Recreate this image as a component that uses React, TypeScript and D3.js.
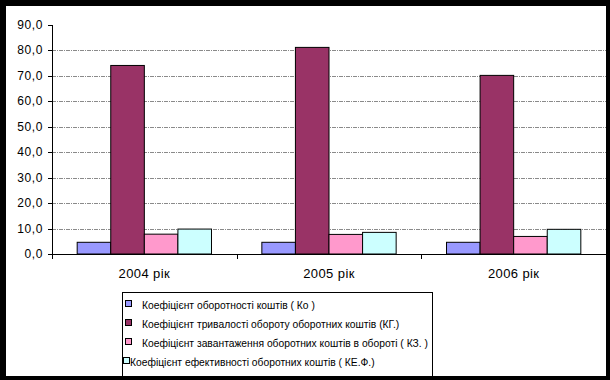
import React from "react";
import * as d3 from "d3";

const categories = ["2004 рік", "2005 рік", "2006 рік"];
const seriesNames = [
  "Коефіцієнт оборотності коштів ( Ко )",
  "Коефіцієнт тривалості обороту оборотних коштів (КГ.)",
  "Коефіцієнт завантаження оборотних коштів в обороті ( КЗ. )",
  "Коефіцієнт ефективності оборотних коштів ( КЕ.Ф.)",
];
const ko = [4.6, 4.6, 4.6];
const kg = [74.1, 81.2, 70.2];
const kz = [7.8, 7.7, 6.9];
const kef = [9.8, 8.5, 9.7];
const seriesValues = [ko, kg, kz, kef];
const seriesColors = ["#9999FF", "#993366", "#FF99CC", "#CCFFFF"];
const yTicks = [0, 10, 20, 30, 40, 50, 60, 70, 80, 90];

export default function App() {
  const W = 610, H = 380;
  const left = 52, right = 606, top = 25, bottom = 254;
  const x = d3.scaleBand<string>().domain(categories).range([left, right]).padding(0);
  const inner = d3
    .scaleBand<number>()
    .domain([0, 1, 2, 3])
    .range([0, x.bandwidth()])
    .paddingInner(0)
    .paddingOuter(0.75);
  const y = d3.scaleLinear().domain([0, 90]).range([bottom, top]);
  const fmt = (v: number) => v.toFixed(1).replace(".", ",");
  const font = "'Liberation Sans', Arial, sans-serif";
  const legendRows = [305, 324, 343, 362];

  return (
    <svg
      width={W}
      height={H}
      style={{ position: "absolute", left: 0, top: 0, display: "block" }}
      fontFamily={font}
    >
      <rect x={0} y={0} width={W} height={H} fill="#000" />
      <rect x={6} y={6} width={600} height={370} fill="#fff" />
      {yTicks
        .filter((t) => t > 0 && t < 90)
        .map((t) => (
          <line
            key={"g" + t}
            x1={left}
            x2={right}
            y1={Math.round(y(t)) + 0.5}
            y2={Math.round(y(t)) + 0.5}
            stroke="#8a8a8a"
            strokeDasharray="4,1,1,1"
          />
        ))}
      {categories.map((c, ci) =>
        seriesValues.map((vals, si) => {
          const x0 = (x(c) as number) + (inner(si) as number);
          const yv = y(vals[ci]);
          return (
            <rect
              key={c + si}
              x={x0}
              y={yv}
              width={inner.bandwidth()}
              height={bottom - yv}
              fill={seriesColors[si]}
              stroke="#000"
              strokeWidth={1}
            />
          );
        })
      )}
      <line x1={left + 0.5} x2={left + 0.5} y1={top} y2={bottom} stroke="#000" />
      {yTicks.map((t) => (
        <g key={"y" + t}>
          <line x1={left - 4} x2={left} y1={Math.round(y(t)) + 0.5} y2={Math.round(y(t)) + 0.5} stroke="#000" />
          <text x={43} y={y(t) + 4} textAnchor="end" fontSize={12} letterSpacing={0.6} fill="#000">
            {fmt(t)}
          </text>
        </g>
      ))}
      <line x1={left} x2={right} y1={bottom + 0.5} y2={bottom + 0.5} stroke="#000" />
      {categories.map((c) => (
        <line
          key={"xt" + c}
          x1={Math.round(x(c) as number) + 0.5}
          x2={Math.round(x(c) as number) + 0.5}
          y1={bottom}
          y2={bottom + 5}
          stroke="#000"
        />
      ))}
      {categories.map((c) => (
        <text
          key={"xl" + c}
          x={(x(c) as number) + x.bandwidth() / 2}
          y={278}
          textAnchor="middle"
          fontSize={13}
          letterSpacing={0.4}
          fill="#000"
        >
          {c}
        </text>
      ))}
      <rect x={122.5} y={292.5} width={310} height={100} fill="#fff" stroke="#000" />
      {seriesNames.map((n, i) => {
        const mx = i === 3 ? 123.5 : 125.5;
        const tx = i === 3 ? 130 : 142;
        return (
          <g key={"lg" + i}>
            <rect x={mx} y={legendRows[i] - 4.5} width={6} height={6} fill={seriesColors[i]} stroke="#000" />
            <text x={tx} y={legendRows[i] + 3.5} fontSize={10.3} fill="#000">
              {n}
            </text>
          </g>
        );
      })}
      <rect x={0} y={376} width={W} height={4} fill="#000" />
      <rect x={606} y={0} width={4} height={H} fill="#000" />
    </svg>
  );
}
